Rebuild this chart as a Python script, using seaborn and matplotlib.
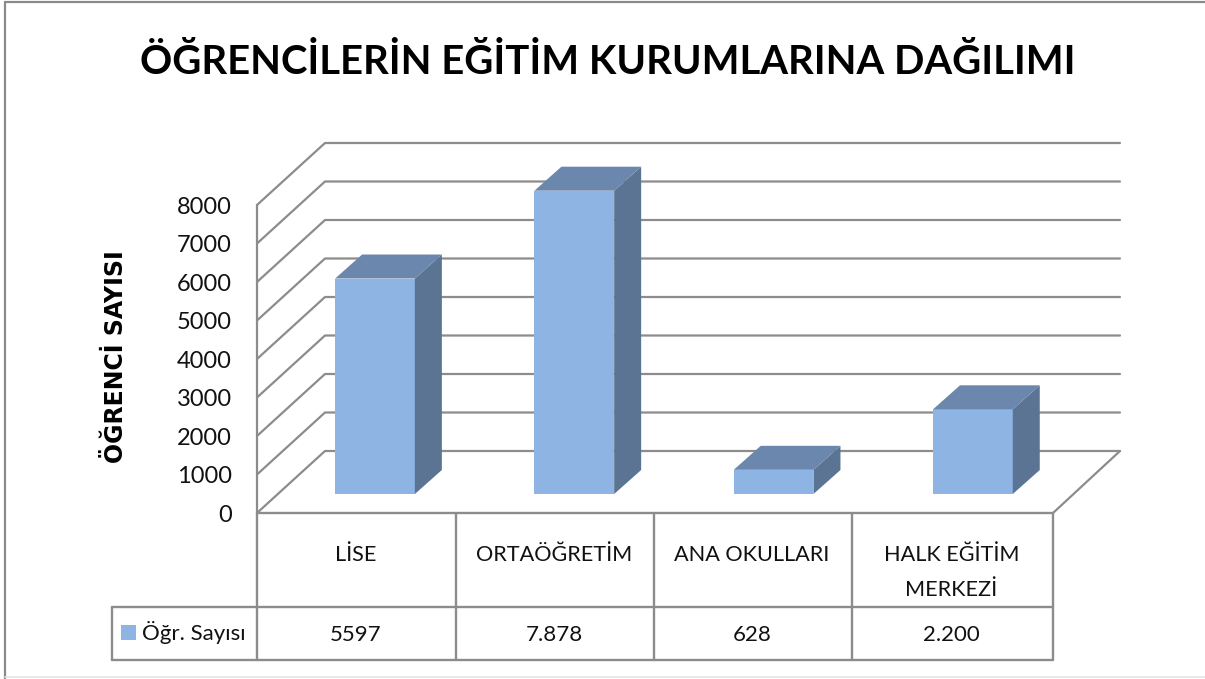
import matplotlib
matplotlib.use('Agg')
import matplotlib.pyplot as plt
from matplotlib.patches import Polygon, Rectangle
from matplotlib.lines import Line2D
from matplotlib.transforms import Affine2D
import pandas as pd
import seaborn as sns

# Data
categories = ['LİSE', 'ORTAÖĞRETİM', 'ANA OKULLARI', 'HALK EĞİTİM\nMERKEZİ']
values = [5597, 7878, 628, 2200]
table_labels = ['5597', '7.878', '628', '2.200']
y_ticks = [0, 1000, 2000, 3000, 4000, 5000, 6000, 7000, 8000]
series_name = 'Öğr. Sayısı'
title = 'ÖĞRENCİLERİN EĞİTİM KURUMLARINA DAĞILIMI'
y_title = 'ÖĞRENCİ SAYISI'

W, H = 1205, 679
FRONT, TOP, SIDE = '#8EB4E3', '#6B87AD', '#5B7494'
GRID = '#8C8C8C'
INK = '#111111'

sns.set_theme(style='white')
plt.rcParams['font.family'] = ['Lato', 'DejaVu Sans']

fig = plt.figure(figsize=(W / 100, H / 100), dpi=100, facecolor='white')
ax = fig.add_axes([0, 0, 1, 1])

# one category = 199 px, 1000 students = 38.5 px, bar baseline at (375, 494)
cat_px, val_px = 199.3, 0.0385

df = pd.DataFrame({'kurum': categories, 'sayi': values})
sns.barplot(data=df, x='kurum', y='sayi', color=FRONT, saturation=1, width=0.4,
            order=categories, ax=ax, zorder=4, linewidth=0, edgecolor='none')
ax.set_xlim(-375 / cat_px, (W - 375) / cat_px)
ax.set_ylim(-(H - 494) / val_px, 494 / val_px)
ax.axis('off')

# Depth of the bars and walls, in data units
bar_dx, bar_dy = 27 / cat_px, 24 / val_px
wall_left, wall_back = (257 - 375) / cat_px, (325 - 375) / cat_px
floor_right, wall_right = (1053 - 375) / cat_px, (1120 - 375) / cat_px
front_dy, back_dy = -19 / val_px, 43 / val_px

# Back wall and left wall gridlines
for v in y_ticks:
    ax.plot([wall_left, wall_back, wall_right],
            [v + front_dy, v + back_dy, v + back_dy], color=GRID, lw=1.6, zorder=1)
    ax.text(wall_left - 25 / cat_px, v + front_dy - 2 / val_px, str(v), ha='right', va='center',
            fontsize=17, color=INK)
ax.plot([wall_left, wall_left], [front_dy, y_ticks[-1] + front_dy], color=GRID, lw=1.6, zorder=1)
ax.plot([floor_right, wall_right], [front_dy, back_dy], color=GRID, lw=1.6, zorder=1)

# Side and top faces of the bars
for patch in ax.patches[:len(values)]:
    x0, x1 = patch.get_x(), patch.get_x() + patch.get_width()
    h = patch.get_height()
    ax.add_patch(Polygon([(x1, 0), (x1 + bar_dx, bar_dy), (x1 + bar_dx, h + bar_dy), (x1, h)],
                         closed=True, fc=SIDE, ec='none', zorder=4))
    ax.add_patch(Polygon([(x0, h), (x0 + bar_dx, h + bar_dy), (x1 + bar_dx, h + bar_dy), (x1, h)],
                         closed=True, fc=TOP, ec='none', zorder=4))

# Data table under the chart, in picture pixels
px = Affine2D().scale(1 / W, -1 / H).translate(0, 1) + fig.transFigure


def line(xs, ys, color=GRID, lw=1.7):
    fig.add_artist(Line2D(xs, ys, transform=px, color=color, lw=lw))


cols = [257, 456, 654, 852, 1053]
line([257, 1053], [513, 513])
line([112, 1053], [607, 607])
line([112, 1053], [660, 660])
line([112, 112], [607, 660])
for c in cols:
    line([c, c], [513, 660])

for i, (cat, lab) in enumerate(zip(categories, table_labels)):
    cx = (cols[i] + cols[i + 1]) / 2 - 1
    rows = cat.split('\n')
    for row, ty in zip(rows, [555, 590]):
        fig.text(cx, ty, row, transform=px, ha='center', va='center', fontsize=15.6, color=INK)
    fig.text(cx, 635, lab, transform=px, ha='center', va='center', fontsize=16, color=INK)

fig.add_artist(Rectangle((121, 625), 15, 15, transform=px, fc=FRONT, ec='none'))
fig.text(142, 633, series_name, transform=px, ha='left', va='center', fontsize=16, color=INK)

# Titles
fig.text(608, 62, title, transform=px, ha='center', va='center', fontsize=28.8,
         fontweight='bold', color='black')
fig.text(116, 357, y_title, transform=px, ha='center', va='center', rotation=90,
         fontsize=17, fontweight='bold', color='black', family='DejaVu Sans')

# Outer frame, only left and top are visible
line([5, 5], [2, 679], color='#8A8A8A', lw=1.6)
line([5, 1205], [2, 2], color='#8A8A8A', lw=1.6)
line([5, 1205], [677, 677], color='#E4E4E4', lw=1.2)

fig.savefig('out.png', dpi=100)
